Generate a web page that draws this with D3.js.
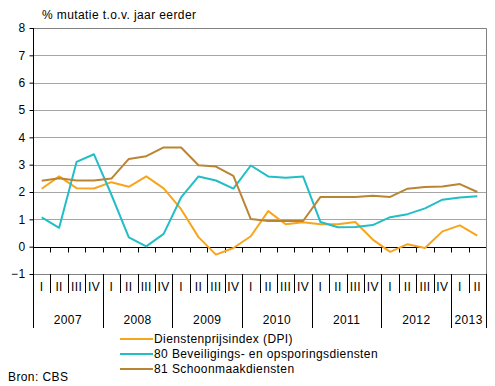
<!DOCTYPE html>
<html>
<head>
<meta charset="utf-8">
<script src="https://cdn.jsdelivr.net/npm/d3@7"></script>
<style>
  body { margin: 0; background: #fff; }
  svg { display: block; font-family: Arial, "Liberation Sans", sans-serif; }
  svg text { letter-spacing: 0.4px; }
</style>
</head>
<body>
<svg id="chart" width="495" height="386"></svg>
<script>
// data
var years = ['2007', '2008', '2009', '2010', '2011', '2012', '2013'];
var quarters = ['I','II','III','IV','I','II','III','IV','I','II','III','IV','I','II','III','IV',
                'I','II','III','IV','I','II','III','IV','I','II'];
var yearOfQuarter = [0,0,0,0,1,1,1,1,2,2,2,2,3,3,3,3,4,4,4,4,5,5,5,5,6,6];
var dpi = [2.12, 2.57, 2.14, 2.13, 2.36, 2.19, 2.57, 2.13, 1.37, 0.35, -0.29, -0.05, 0.38,
           1.30, 0.82, 0.89, 0.82, 0.82, 0.90, 0.26, -0.19, 0.09, -0.05, 0.56, 0.78, 0.40];
var beveiliging = [1.07, 0.69, 3.10, 3.38, 1.90, 0.34, 0.01, 0.47, 1.80, 2.57, 2.42, 2.12, 2.97,
                   2.57, 2.52, 2.57, 0.90, 0.71, 0.72, 0.79, 1.08, 1.19, 1.40, 1.72, 1.80, 1.84];
var schoonmaak = [2.41, 2.50, 2.42, 2.42, 2.49, 3.21, 3.31, 3.63, 3.63, 2.98, 2.93, 2.59, 1.01,
                  0.94, 0.94, 0.94, 1.82, 1.82, 1.82, 1.86, 1.82, 2.12, 2.18, 2.20, 2.29, 2.00];
var seriesNames = ['Dienstenprijsindex (DPI)', '80 Beveiligings- en opsporingsdiensten', '81 Schoonmaakdiensten'];
var seriesColors = ['#f7a51c', '#22bec6', '#ba8532'];
var yTicks = [-1, 0, 1, 2, 3, 4, 5, 6, 7, 8];

(function () {
var svg = d3.select('#chart');
var pLeft = 33, pRight = 486, pTop = 28, pBottom = 274, axisBottom = 328;

var x = d3.scaleBand()
    .domain(d3.range(quarters.length))
    .range([pLeft, pRight]);
var y = d3.scaleLinear()
    .domain([-1, 8])
    .range([pBottom, pTop]);

// gridlines
svg.append('g')
    .selectAll('line')
    .data(yTicks.filter(function(d){ return d > -1 && d < 8 && d !== 0; }))
    .enter().append('line')
    .attr('x1', pLeft).attr('x2', pRight)
    .attr('y1', function(d){ return Math.round(y(d)) + 0.5; })
    .attr('y2', function(d){ return Math.round(y(d)) + 0.5; })
    .attr('stroke', '#a6a6a6');

// plot border (top, right, bottom)
svg.append('path')
    .attr('d', 'M' + pLeft + ',' + (Math.round(y(8)) + 0.5) + 'H' + (pRight + 0.5) +
               'V' + (Math.round(y(-1)) + 0.5) + 'H' + pLeft)
    .attr('fill', 'none')
    .attr('stroke', '#808080');

// y axis
var yAxis = svg.append('g')
    .attr('transform', 'translate(' + (pLeft + 0.5) + ',0)')
    .call(d3.axisLeft(y).tickValues(yTicks).tickSize(4).tickPadding(4));
yAxis.select('.domain').remove();
yAxis.selectAll('.tick line').attr('stroke', '#000');
yAxis.selectAll('.tick text')
    .attr('font-size', 12)
    .attr('font-family', 'Arial, "Liberation Sans", sans-serif')
    .attr('fill', '#000');

// zero line with ticks
var zeroY = Math.round(y(0)) + 0.5;
svg.append('line')
    .attr('x1', pLeft).attr('x2', pRight)
    .attr('y1', zeroY).attr('y2', zeroY)
    .attr('stroke', '#000');
svg.append('g')
    .selectAll('line')
    .data(d3.range(1, quarters.length))
    .enter().append('line')
    .attr('x1', function(d){ return Math.round(x(d)) + 0.5; })
    .attr('x2', function(d){ return Math.round(x(d)) + 0.5; })
    .attr('y1', zeroY).attr('y2', zeroY + 5)
    .attr('stroke', '#000');

// left axis line (extends down as first year separator)
svg.append('line')
    .attr('x1', pLeft + 0.5).attr('x2', pLeft + 0.5)
    .attr('y1', pTop).attr('y2', axisBottom)
    .attr('stroke', '#000');

// category separators below plot
var quarterSeps = d3.range(1, quarters.length + 1);
svg.append('g')
    .selectAll('line')
    .data(quarterSeps)
    .enter().append('line')
    .attr('x1', function(d){ return Math.round(d < quarters.length ? x(d) : pRight) + 0.5; })
    .attr('x2', function(d){ return Math.round(d < quarters.length ? x(d) : pRight) + 0.5; })
    .attr('y1', pBottom)
    .attr('y2', function(d){
        var isYear = d === quarters.length || yearOfQuarter[d] !== yearOfQuarter[d - 1];
        return isYear ? axisBottom : pBottom + 19;
    })
    .attr('stroke', '#000');

// quarter labels
svg.append('g')
    .selectAll('text')
    .data(quarters)
    .enter().append('text')
    .attr('x', function(d, i){ return x(i) + x.bandwidth() / 2; })
    .attr('y', pBottom + 17)
    .attr('text-anchor', 'middle')
    .attr('font-size', 12)
    .text(function(d){ return d; });

// year labels
svg.append('g')
    .selectAll('text')
    .data(years)
    .enter().append('text')
    .attr('x', function(d, yi){
        var idx = d3.range(quarters.length).filter(function(i){ return yearOfQuarter[i] === yi; });
        var x0 = x(idx[0]), x1 = x(idx[idx.length - 1]) + x.bandwidth();
        return (x0 + x1) / 2;
    })
    .attr('y', 324)
    .attr('text-anchor', 'middle')
    .attr('font-size', 12)
    .text(function(d){ return d; });

// lines
var line = d3.line()
    .x(function(d, i){ return x(i) + x.bandwidth() / 2; })
    .y(function(d){ return y(d); });

[dpi, beveiliging, schoonmaak].forEach(function(s, k){
    svg.append('path')
        .datum(s)
        .attr('d', line)
        .attr('fill', 'none')
        .attr('stroke', seriesColors[k])
        .attr('stroke-width', 2)
        .attr('stroke-linejoin', 'round');
});

// title
svg.append('text')
    .attr('x', 42).attr('y', 19)
    .attr('font-size', 12)
    .text('% mutatie t.o.v. jaar eerder');

// legend
var legend = svg.append('g')
    .selectAll('g')
    .data(seriesNames)
    .enter().append('g')
    .attr('transform', function(d, i){ return 'translate(120,' + (339 + i * 15) + ')'; });
legend.append('line')
    .attr('x1', 0).attr('x2', 33)
    .attr('stroke', function(d, i){ return seriesColors[i]; })
    .attr('stroke-width', 2);
legend.append('text')
    .attr('x', 34).attr('y', 4)
    .attr('font-size', 12)
    .text(function(d){ return d; });

// source
svg.append('text')
    .attr('x', 8).attr('y', 381)
    .attr('font-size', 12)
    .text('Bron: CBS');
})();
</script>
</body>
</html>
